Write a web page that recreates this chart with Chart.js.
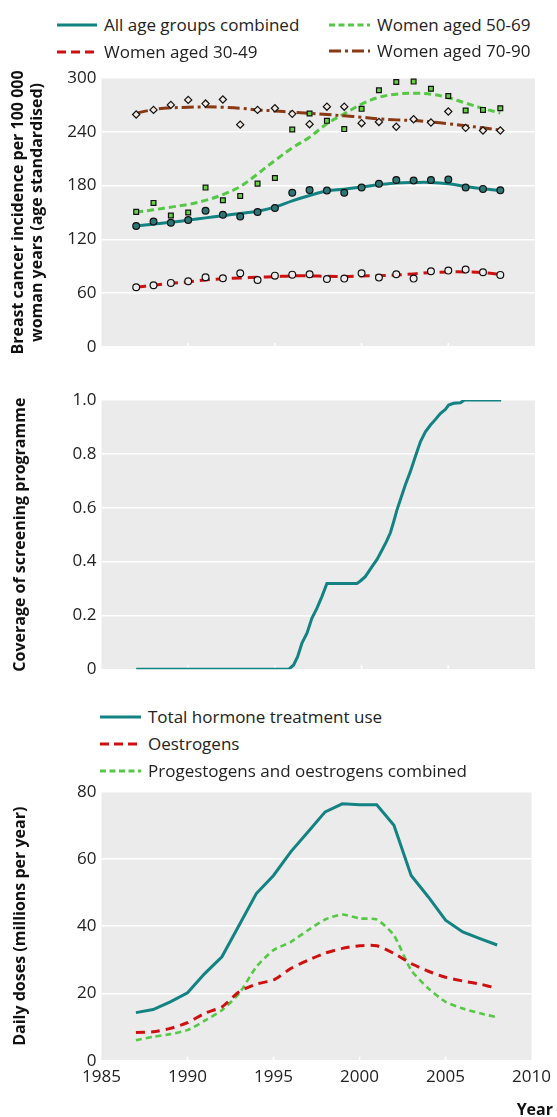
<!DOCTYPE html>
<html><head><meta charset="utf-8">
<script src="https://cdn.jsdelivr.net/npm/chart.js@4.4.1/dist/chart.umd.min.js"></script>
<style>
html,body{margin:0;padding:0;background:#fff}
body{width:557px;height:1117px;position:relative;overflow:hidden;font-family:"Open Sans",sans-serif}
.box{position:absolute;left:0;width:557px}
.leg{position:absolute;height:22px;font-size:17px;color:#222;white-space:nowrap;line-height:22px}
.leg svg{position:absolute;left:0;top:0}
.leg span{position:absolute;top:0}
#yearLbl{position:absolute;right:4px;top:1098px;font-weight:bold;font-size:16px;color:#111;line-height:22px}
</style></head><body>
<div class="box" id="b1" style="top:60px;height:300px"><canvas id="c1"></canvas></div>
<div class="box" id="b2" style="top:380px;height:300px"><canvas id="c2"></canvas></div>
<div class="box" id="b3" style="top:770px;height:347px"><canvas id="c3"></canvas></div>
<div id="yearLbl">Year</div>
<script>
// ---------- data ----------
const years = [1987,1988,1989,1990,1991,1992,1993,1994,1995,1996,1997,1998,1999,2000,2001,2002,2003,2004,2005,2006,2007,2008];
const xTicks = [1985,1990,1995,2000,2005,2010];

const allAgesObs  = [135,140,138.5,141.5,152,147.5,145.5,150.5,155,172,175,174.4,172,177.8,182,186.3,185.6,186.3,186.7,177.8,176.3,174.8];
const allAgesFit  = [135,137,139,141.5,144,146.5,149,151.5,156,163,169,174,176,178.5,181,183,183.5,183.5,182,179,176.5,174.5];
const w5069Obs    = [150.7,160.7,146.7,150,177.8,163.7,168.5,182.2,188.5,242.6,260.4,252.2,243,265.6,286.3,295.6,296,288,280,263.7,264.4,266.3];
const w5069Fit    = [150.5,153,156,159,163.5,170,179,193,208,222,234,249,260,271,278.5,282,283,282,278,272,266,261];
const w7090Obs    = [259.3,264.4,270,275.6,271.5,276,248,264.4,266.3,260,248.5,268,268,249.6,251,245.6,254,250.4,262.6,244.4,241.5,241.5];
const w7090Fit    = [260.7,264.8,266.7,267.4,267.8,267.4,266.3,264.4,263.3,261.9,260.7,259.3,257.8,256.3,254.4,253.3,252.6,251,249,246.7,244.4,241.9];
const w3049Obs    = [66.7,68.9,71.5,73.3,77.8,76.7,82.2,74.8,79.6,80.7,81.1,75.9,76.3,82.2,77.4,81.1,76.3,84.4,85.2,86.3,83.3,80.4];
const w3049Fit    = [66.7,68.9,71,72.6,74.8,76,77,77.8,78.5,79.3,79.3,78.9,78.5,79.3,79.6,80.4,81.5,83,83.7,83.7,83,81.1];

const coverageYear  = [1987,1995.79,1996.08,1996.31,1996.56,1996.85,1997.13,1997.42,1997.71,1998.0,1999.73,1999.93,2000.21,2000.41,2000.60,2000.89,2001.18,2001.43,2001.66,2001.85,2002.04,2002.23,2002.52,2002.81,2003.10,2003.39,2003.68,2003.97,2004.26,2004.54,2004.83,2005.02,2005.31,2005.70,2005.93,2008.05];
const coverageValue = [0,0,0.016,0.047,0.097,0.134,0.189,0.226,0.270,0.319,0.319,0.328,0.344,0.363,0.381,0.408,0.443,0.474,0.507,0.548,0.592,0.629,0.684,0.734,0.790,0.845,0.882,0.907,0.928,0.950,0.965,0.981,0.988,0.990,1.0,1.0];

const totalHT    = [14.3,15.2,17.5,20.2,25.9,30.9,40.3,49.7,55.1,62.1,68,74,76.4,76.1,76.1,70,55.1,48.7,41.8,38.3,36.3,34.4];
const oestrogens = [8.4,8.6,9.6,11.3,14.1,16,20.5,22.8,24,27.4,29.9,32,33.4,34.2,34.2,31.9,28.9,26.6,24.8,23.7,22.8,21.5];
const combinedPO = [6.1,7.1,7.9,9.1,11.9,15,20,27.9,32.9,35.3,38.8,42,43.5,42.3,42,37.3,26.9,21.5,17.5,15.5,14.1,12.9];

const topTicks = [0,60,120,180,240,300];
const midTicks = [0,0.2,0.4,0.6,0.8,1.0];
const botTicks = [0,20,40,60,80];

const topNames = ['All age groups combined','Women aged 50-69','Women aged 30-49','Women aged 70-90'];
const botNames = ['Total hormone treatment use','Oestrogens','Progestogens and oestrogens combined'];

// ---------- styles ----------
const F = "'Open Sans', sans-serif";
const TEAL = '#128282', RED = '#d01010', GREEN = '#55c845', BROWN = '#8a3a12';
const pts = (xs, ys) => xs.map((x, i) => ({x, y: ys[i]}));

const panelBg = {
  id: 'panelBg',
  beforeDraw(chart) {
    const {ctx, chartArea: a} = chart;
    ctx.save(); ctx.fillStyle = '#ebebeb';
    ctx.fillRect(a.left, a.top, a.right - a.left, a.bottom - a.top);
    ctx.restore();
  },
  beforeDatasetsDraw(chart) {
    const {ctx, chartArea: a, scales: {x}} = chart;
    ctx.save(); ctx.strokeStyle = '#fff'; ctx.lineWidth = 1.6;
    xTicks.forEach(v => {
      const px = x.getPixelForValue(v);
      if (px <= a.left + 1 || px >= a.right - 1) return;
      ctx.beginPath(); ctx.moveTo(px, a.bottom); ctx.lineTo(px, a.bottom - 4); ctx.stroke();
    });
    ctx.restore();
  }
};

function yAxis(min, max, step, title, titlePad, fmt) {
  return {
    min, max,
    afterBuildTicks: s => { s.ticks = (step).map(v => ({value: v})); },
    ticks: {color: '#222', font: {size: 17, family: F}, padding: 5, callback: fmt || (v => String(v))},
    grid: {color: '#ffffff', lineWidth: 1.6, drawTicks: false},
    border: {display: false},
    title: {display: true, text: title, color: '#111', font: {size: 16, weight: 'bold', family: F, lineHeight: 1.2}, padding: {top: titlePad, bottom: 0}},
    afterFit: s => { s.width = 101.5; s.paddingTop = 0; s.paddingBottom = 0; }
  };
}
function xAxisHidden() {
  return {type: 'linear', min: 1985, max: 2010, display: false};
}
const common = (padTop, padBottom) => ({
  responsive: true, maintainAspectRatio: false, animation: false,
  layout: {padding: {top: padTop, right: 22, bottom: padBottom, left: 0}},
  plugins: {legend: {display: false}, tooltip: {enabled: false}},
  elements: {point: {radius: 0}}
});

// ---------- chart 1 ----------
const fitLine = (data, color, dash, width) => ({type: 'line', data: pts(years, data), borderColor: color, borderWidth: width, borderDash: dash, pointRadius: 0, tension: 0.35, fill: false, order: 2});
const obsPts = (data, style, fillC, r) => ({type: 'line', data: pts(years, data), showLine: false, pointStyle: style, pointRadius: r, pointBackgroundColor: fillC, pointBorderColor: '#111', pointBorderWidth: 1.2, order: 1});

new Chart(document.getElementById('c1'), {
  type: 'line',
  data: {datasets: [
    obsPts(w7090Obs, 'rectRot', '#f3ebe3', 3.6),
    obsPts(w3049Obs, 'circle', '#ececec', 3.4),
    obsPts(w5069Obs, 'rect', '#66d044', 3.4),
    obsPts(allAgesObs, 'circle', '#2e7676', 3.4),
    fitLine(w7090Fit, BROWN, [12, 4, 3, 4], 3),
    fitLine(w3049Fit, RED, [10, 6], 3),
    fitLine(w5069Fit, GREEN, [7, 4], 3),
    fitLine(allAgesFit, TEAL, [], 3)
  ]},
  options: Object.assign(common(18, 13), {
    scales: {
      x: xAxisHidden(),
      y: yAxis(0, 300, topTicks, ['Breast cancer incidence per 100 000', 'woman years (age standardised)'], 9)
    }
  }),
  plugins: [panelBg]
});

// ---------- chart 2 ----------
new Chart(document.getElementById('c2'), {
  type: 'line',
  data: {datasets: [
    {data: pts(coverageYear, coverageValue), borderColor: TEAL, borderWidth: 3, pointRadius: 0, tension: 0, fill: false}
  ]},
  options: Object.assign(common(20, 10.7), {
    scales: {
      x: xAxisHidden(),
      y: yAxis(0, 1, midTicks, 'Coverage of screening programme', 10.5, v => v === 0 ? '0' : v.toFixed(1))
    }
  }),
  plugins: [panelBg]
});

// ---------- chart 3 ----------
new Chart(document.getElementById('c3'), {
  type: 'line',
  data: {datasets: [
    {data: pts(years, totalHT), borderColor: TEAL, borderWidth: 3, pointRadius: 0, tension: 0, fill: false},
    {data: pts(years, oestrogens), borderColor: RED, borderWidth: 3, borderDash: [9, 6], pointRadius: 0, tension: 0.2, fill: false},
    {data: pts(years, combinedPO), borderColor: GREEN, borderWidth: 2.6, borderDash: [6, 4], pointRadius: 0, tension: 0.2, fill: false}
  ]},
  options: Object.assign(common(21.7, 0), {
    scales: {
      x: {type: 'linear', min: 1985, max: 2010,
        afterBuildTicks: s => { s.ticks = xTicks.map(v => ({value: v})); },
        ticks: {color: '#222', font: {size: 17, family: F}, padding: 6, callback: v => String(v)},
        grid: {display: false, drawTicks: false}, border: {display: false},
        afterFit: s => { s.height = 56.3; }
      },
      y: yAxis(0, 80, botTicks, 'Daily doses (millions per year)', 10.5)
    }
  }),
  plugins: [panelBg]
});

// ---------- legends (HTML) ----------
const legendTop = [
  {name: topNames[0], color: TEAL, dash: '', lx: 56.7, tx: 104, cy: 25},
  {name: topNames[1], color: GREEN, dash: '6 3.5', lx: 329, tx: 377, cy: 24.5},
  {name: topNames[2], color: RED, dash: '9 5', lx: 56.7, tx: 104, cy: 51.5},
  {name: topNames[3], color: BROWN, dash: '12 4 3 4', lx: 329, tx: 377, cy: 51}
];
const legendBot = [
  {name: botNames[0], color: TEAL, dash: '', lx: 100, tx: 148, cy: 717},
  {name: botNames[1], color: RED, dash: '9 5', lx: 100, tx: 148, cy: 744},
  {name: botNames[2], color: GREEN, dash: '6 3.5', lx: 100, tx: 148, cy: 770.5}
];
function addLegend(items) {
  items.forEach(it => {
    const d = document.createElement('div');
    d.className = 'leg';
    d.style.left = it.lx + 'px';
    d.style.top = (it.cy - 11) + 'px';
    const w = it.tx - it.lx - 7;
    d.innerHTML = '<svg width="' + w + '" height="22"><line x1="0" y1="11" x2="' + w + '" y2="11" stroke="' + it.color + '" stroke-width="3"' + (it.dash ? ' stroke-dasharray="' + it.dash + '"' : '') + '/></svg><span style="left:' + (it.tx - it.lx) + 'px"></span>';
    d.querySelector('span').textContent = it.name;
    document.body.appendChild(d);
  });
}
addLegend(legendTop);
addLegend(legendBot);
</script>
</body></html>
